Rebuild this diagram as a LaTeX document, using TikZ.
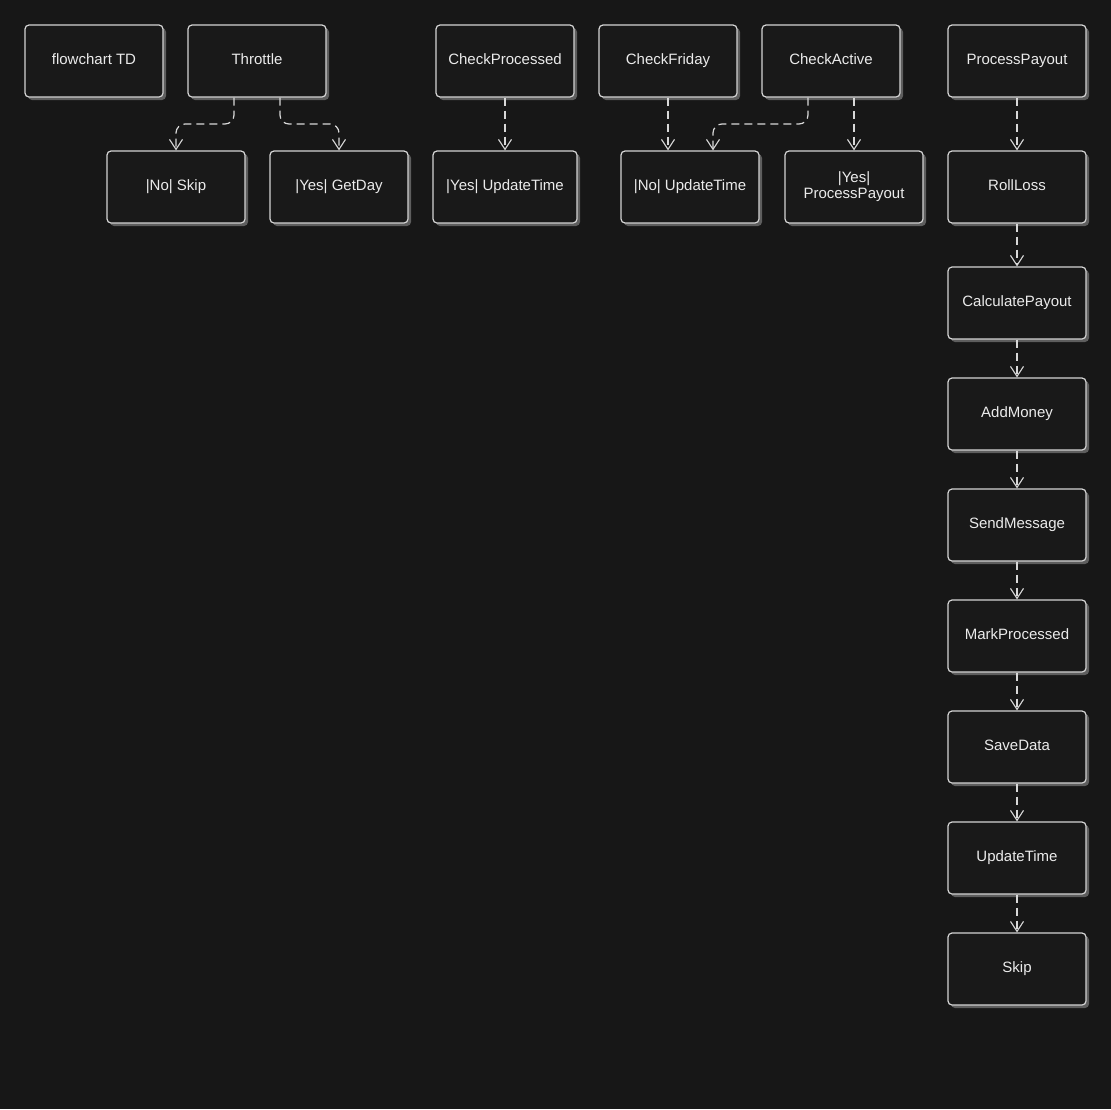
\documentclass[tikz,border=0pt]{standalone}
\usepackage{fontspec}
\setmainfont{Liberation Sans}
\usetikzlibrary{arrows.meta,shadows}
\definecolor{bg}{HTML}{171717}
\definecolor{boxfill}{HTML}{191919}
\definecolor{boxline}{HTML}{D4D4D4}
\definecolor{shadowgrey}{HTML}{5E5E5E}
\definecolor{edgeline}{HTML}{D8D8D8}
\begin{document}
\begin{tikzpicture}[x=1pt,y=-1pt,
  stepbox/.style={draw=boxline, fill=boxfill, line width=1.2pt, rounded corners=4pt,
    minimum width=138pt, minimum height=72pt, inner sep=2pt, align=center,
    text height=10.5pt, text depth=3.5pt,
    text=white!92!black, font=\fontsize{15}{17}\selectfont,
    drop shadow={shadow xshift=3pt, shadow yshift=-3pt, fill=shadowgrey, opacity=1}},
  twoline/.style={text height=, text depth=},
  flow/.style={draw=edgeline, line width=1.2pt, dash pattern=on 8pt off 5pt,
    rounded corners=9pt, -{Straight Barb[length=10pt,width=13pt,line width=1.1pt]}}
]
\fill[bg] (0,0) rectangle (1111,1109);
\useasboundingbox (0,0) rectangle (1111,1109);

% top row
\node[stepbox] (fc)  at (94,61)  {flowchart TD};
\node[stepbox] (thr) at (257,61) {Throttle};
\node[stepbox] (cpr) at (505,61) {CheckProcessed};
\node[stepbox] (cfr) at (668,61) {CheckFriday};
\node[stepbox] (cac) at (831,61) {CheckActive};
\node[stepbox] (pp)  at (1017,61) {ProcessPayout};

% second row
\node[stepbox] (noskip) at (176,187) {|No| Skip};
\node[stepbox] (yesday) at (339,187) {|Yes| GetDay};
\node[stepbox, minimum width=144pt] (yesut) at (505,187) {|Yes| UpdateTime};
\node[stepbox] (nout)   at (690,187) {|No| UpdateTime};
\node[stepbox, twoline] (yespp)  at (854,187) {|Yes|\\[-1pt]ProcessPayout};

% payout chain
\node[stepbox] (roll) at (1017,187) {RollLoss};
\node[stepbox] (calc) at (1017,303) {CalculatePayout};
\node[stepbox] (add)  at (1017,414) {AddMoney};
\node[stepbox] (send) at (1017,525) {SendMessage};
\node[stepbox] (mark) at (1017,636) {MarkProcessed};
\node[stepbox] (save) at (1017,747) {SaveData};
\node[stepbox] (upd)  at (1017,858) {UpdateTime};
\node[stepbox] (skip) at (1017,969) {Skip};

% branching connectors
\draw[flow] (thr.south -| 234,0) -- (234,124) -- (176,124) -- (noskip.north);
\draw[flow] (thr.south -| 280,0) -- (280,124) -- (339,124) -- (yesday.north);
\draw[flow] (cpr.south) -- (yesut.north);
\draw[flow] (cfr.south -| 668,0) -- (nout.north -| 668,0);
\draw[flow] (cac.south -| 808,0) -- (808,124) -- (713,124) -- (nout.north -| 713,0);
\draw[flow] (cac.south -| 854,0) -- (yespp.north);

% straight chain
\foreach \a/\b in {pp/roll, roll/calc, calc/add, add/send, send/mark, mark/save, save/upd, upd/skip}
  \draw[flow] (\a.south) -- (\b.north);
\end{tikzpicture}
\end{document}
